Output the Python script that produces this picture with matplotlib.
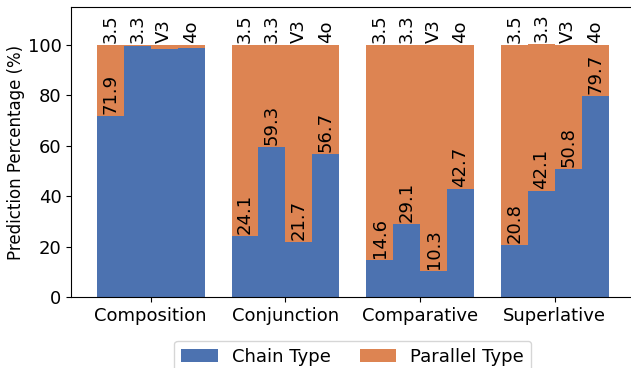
import numpy as np
import matplotlib
matplotlib.use("Agg")
import matplotlib.pyplot as plt

categories = ["Composition", "Conjunction", "Comparative", "Superlative"]
models = ["3.5", "3.3", "V3", "4o"]

# chain type percentage, rows = categories, cols = models
chain = np.array([
    [71.9, 99.6, 98.3, 98.9],
    [24.1, 59.3, 21.7, 56.7],
    [14.6, 29.1, 10.3, 42.7],
    [20.8, 42.1, 50.8, 79.7],
])
parallel = np.array([
    [28.1, 0.4, 1.7, 1.1],
    [75.9, 40.7, 78.3, 43.3],
    [85.4, 70.9, 89.7, 57.3],
    [79.2, 58.3, 49.2, 20.3],
])

blue = "#4C72B0"
orange = "#DD8452"
fs = 13

fig = plt.figure(figsize=(6.31, 3.68), dpi=100)
ax = fig.add_axes([0.113, 0.193, 0.892, 0.788])

x = np.arange(len(categories))
w = 0.2
offsets = (np.arange(len(models)) - 1.5) * w

for j, m in enumerate(models):
    xs = x + offsets[j]
    ax.bar(xs, chain[:, j], w, color=blue, label="Chain Type" if j == 0 else None)
    ax.bar(xs, parallel[:, j], w, bottom=chain[:, j], color=orange,
           label="Parallel Type" if j == 0 else None)
    for i in range(len(categories)):
        top = chain[i, j] + parallel[i, j]
        ax.text(xs[i], max(top, 100) + 0.8, m, rotation=90, ha="center", va="bottom", fontsize=fs)
        if chain[i, j] < 95:
            ax.text(xs[i], chain[i, j] + 0.8, f"{chain[i, j]:.1f}", rotation=90,
                    ha="center", va="bottom", fontsize=fs)

ax.set_xlim(-0.59, 3.59)
ax.set_ylim(0, 115)
ax.set_xticks(x)
ax.set_xticklabels(categories, fontsize=fs)
ax.set_yticks([0, 20, 40, 60, 80, 100])
ax.tick_params(axis="y", labelsize=fs)
ax.set_ylabel("Prediction Percentage (%)", fontsize=12, labelpad=2)

ax.legend(loc="upper center", bbox_to_anchor=(0.5, -0.12), ncol=2, fontsize=fs,
          columnspacing=1.6)

fig.savefig("out.png", dpi=100)
